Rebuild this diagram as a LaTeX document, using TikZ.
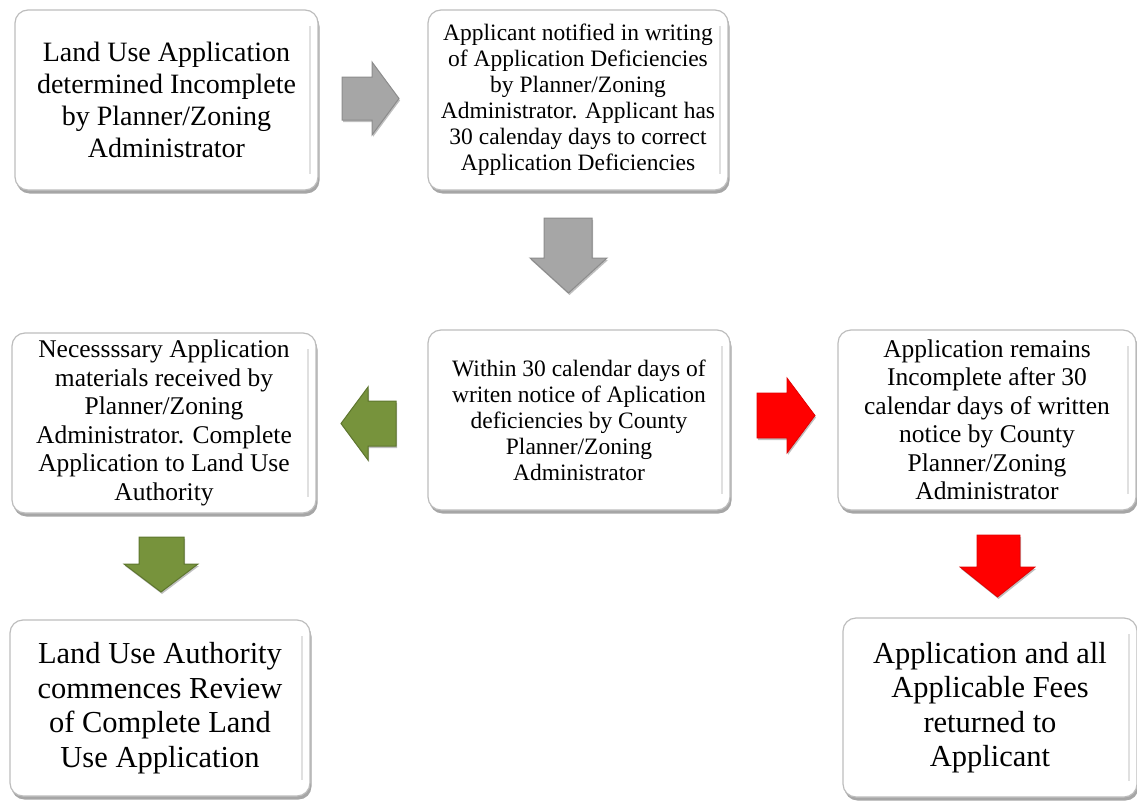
\documentclass[tikz,border=0pt]{standalone}
\usepackage{fontspec}
\setmainfont{Liberation Serif}
\usetikzlibrary{shadows}
\definecolor{grayA}{HTML}{A6A6A6}
\definecolor{grayE}{HTML}{8C8C8C}
\definecolor{greenA}{HTML}{77933C}
\definecolor{greenE}{HTML}{5E762E}
\definecolor{redA}{HTML}{FF0000}
\definecolor{redE}{HTML}{E00000}
\definecolor{boxedge}{HTML}{BDBDBD}
\tikzset{
  flowbox/.style={rectangle, rounded corners=13pt, draw=boxedge, line width=1.2pt,
    fill=white, align=center, inner sep=0pt, text=black,
    drop shadow={shadow xshift=1.5pt, shadow yshift=-3.5pt, opacity=0.35, fill=black},
    path picture={\draw[black!12, line width=2pt]
      ([xshift=-8pt,yshift=-16pt]path picture bounding box.north east) --
      ([xshift=-8pt,yshift=16pt]path picture bounding box.south east);}},
  bigtxt/.style={font=\fontsize{28}{32}\selectfont},
  hugetxt/.style={font=\fontsize{30.5}{34.5}\selectfont},
  midtxt/.style={font=\fontsize{25.5}{28.5}\selectfont},
  smalltxt/.style={font=\fontsize{23.5}{26}\selectfont},
  grayarrow/.style={fill=grayA, draw=grayE, line width=1pt, line join=miter,
    drop shadow={shadow xshift=1pt, shadow yshift=-2pt, opacity=0.25, fill=black}},
  greenarrow/.style={fill=greenA, draw=greenE, line width=1pt, line join=miter,
    drop shadow={shadow xshift=1pt, shadow yshift=-2pt, opacity=0.25, fill=black}},
  redarrow/.style={fill=redA, draw=redE, line width=0.8pt, line join=miter,
    drop shadow={shadow xshift=1pt, shadow yshift=-2pt, opacity=0.25, fill=black}},
}
\begin{document}
\begin{tikzpicture}[x=1pt, y=-1pt]
\useasboundingbox (0,0) rectangle (1137,800);

% boxes
\node[flowbox, bigtxt, minimum width=303pt, minimum height=180pt] (b1) at (166.5,100)
  {Land Use Application\\determined Incomplete\\by Planner/Zoning\\Administrator};
\node[flowbox, smalltxt, minimum width=300pt, minimum height=180pt] (b2) at (578,100)
  {Applicant notified in writing\\of Application Deficiencies\\by Planner/Zoning\\Administrator. Applicant has\\30 calenday days to correct\\Application Deficiencies};
\node[flowbox, midtxt, minimum width=304pt, minimum height=180pt] (b3) at (164,423)
  {Necessssary Application\\materials received by\\Planner/Zoning\\Administrator. Complete\\Application to Land Use\\Authority};
\node[flowbox, smalltxt, minimum width=302pt, minimum height=180pt] (b4) at (579,420)
  {Within 30 calendar days of\\writen notice of Aplication\\deficiencies by County\\Planner/Zoning\\Administrator};
\node[flowbox, midtxt, minimum width=298pt, minimum height=180pt] (b5) at (987,420)
  {Application remains\\Incomplete after 30\\calendar days of written\\notice by County\\Planner/Zoning\\Administrator};
\node[flowbox, hugetxt, minimum width=300pt, minimum height=176pt] (b6) at (160,708)
  {Land Use Authority\\commences Review\\of Complete Land\\Use Application};
\node[flowbox, hugetxt, minimum width=294pt, minimum height=179pt] (b7) at (990,707.5)
  {Application and all\\Applicable Fees\\returned to\\Applicant};

% block arrows
% b1 -> b2 (gray, right)
\filldraw[grayarrow] (342,77) -- (372,77) -- (372,62) -- (399,98.5) -- (372,135) -- (372,120) -- (342,120) -- cycle;
% b2 -> b4 (gray, down)
\filldraw[grayarrow] (544,218) -- (592,218) -- (592,258) -- (607,258) -- (568.5,293) -- (530,258) -- (544,258) -- cycle;
% b4 -> b3 (green, left)
\filldraw[greenarrow] (396,401) -- (368,401) -- (368,387) -- (341,423.5) -- (368,460) -- (368,446) -- (396,446) -- cycle;
% b4 -> b5 (red, right)
\filldraw[redarrow] (757,393) -- (787,393) -- (787,378) -- (815,415.5) -- (787,453) -- (787,438) -- (757,438) -- cycle;
% b3 -> b6 (green, down)
\filldraw[greenarrow] (139,537) -- (184,537) -- (184,564) -- (198,564) -- (161,592) -- (124,564) -- (139,564) -- cycle;
% b5 -> b7 (red, down)
\filldraw[redarrow] (977,535) -- (1020,535) -- (1020,567) -- (1035,567) -- (997.5,597) -- (960,567) -- (977,567) -- cycle;
\end{tikzpicture}
\end{document}
